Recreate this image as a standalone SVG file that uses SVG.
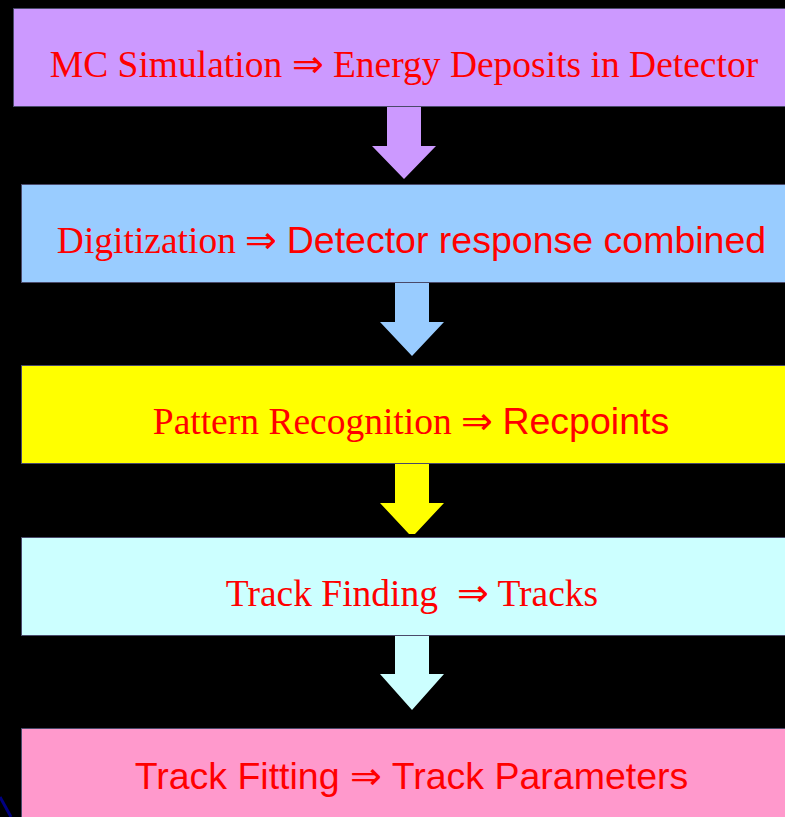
<svg xmlns="http://www.w3.org/2000/svg" width="785" height="817" viewBox="0 0 785 817">
<style>
.box{stroke:#4a4a6a;stroke-width:1}
.t{font-size:37.5px;fill:#ff0000;text-anchor:middle}
.serif{font-family:"Liberation Serif","Times New Roman",serif}
.sans{font-family:"Liberation Sans",Arial,sans-serif}
</style>
<rect x="0" y="0" width="785" height="817" fill="#000000"/>
<line x1="0" y1="797" x2="11" y2="817" stroke="#000080" stroke-width="3"/>
<g id="connectors">
<polygon points="387,106 421,106 421,146 436,146 404,179 372,146 387,146" fill="#cc99ff"/>
<polygon points="395,283 429,283 429,322 444,322 412,356 380,322 395,322" fill="#99ccff"/>
<polygon points="395,464 429,464 429,503 444,503 415,534 409,534 380,503 395,503" fill="#ffff00"/>
<polygon points="395,636 429,636 429,674 444,674 412,710 380,674 395,674" fill="#ccffff"/>
</g>
<g id="n1">
<rect class="box" x="13.5" y="8.5" width="772" height="98" fill="#cc99ff"/>
<text class="t serif" x="404" y="77">MC Simulation ⇒ Energy Deposits in Detector</text>
</g>
<g id="n2">
<rect class="box" x="21.5" y="184.5" width="764" height="98" fill="#99ccff"/>
<text class="t" x="411.5" y="253"><tspan class="serif">Digitization ⇒ </tspan><tspan class="sans">Detector response combined</tspan></text>
</g>
<g id="n3">
<rect class="box" x="21.5" y="365.5" width="764" height="98" fill="#ffff00"/>
<text class="t" x="411" y="434"><tspan class="serif">Pattern Recognition ⇒ </tspan><tspan class="sans">Recpoints</tspan></text>
</g>
<g id="n4">
<rect class="box" x="21.5" y="537.5" width="764" height="98" fill="#ccffff"/>
<text class="t serif" x="412" y="606" xml:space="preserve">Track Finding  ⇒ Tracks</text>
</g>
<g id="n5">
<rect class="box" x="21.5" y="728.5" width="764" height="98" fill="#ff99cc"/>
<text class="t" x="411.5" y="789"><tspan class="sans">Track Fitting </tspan><tspan class="serif">⇒</tspan><tspan class="sans"> Track Parameters</tspan></text>
</g>
</svg>
